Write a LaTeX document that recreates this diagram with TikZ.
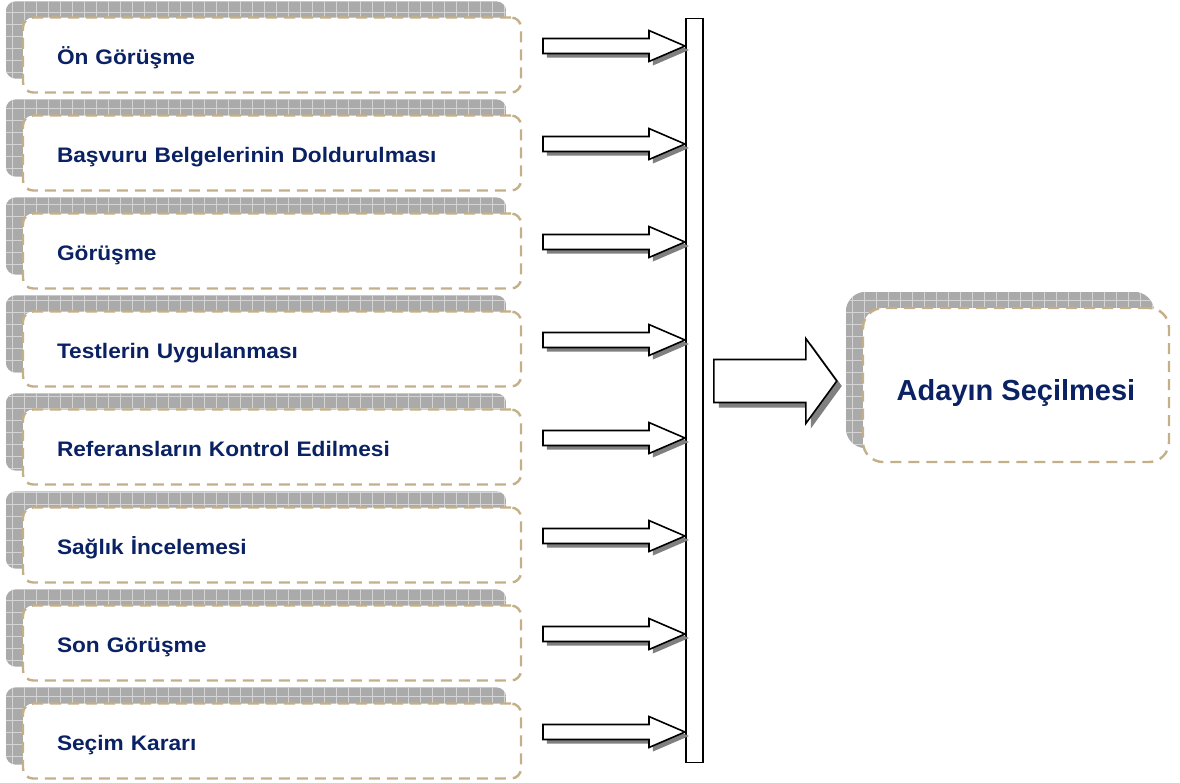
\documentclass[tikz,border=0pt]{standalone}
\usepackage{fontspec}
\setmainfont{Liberation Sans}
\newfontfamily\widesans[FakeStretch=1.08]{Liberation Sans}
\usetikzlibrary{calc,backgrounds}

\definecolor{navy}{RGB}{10,34,100}
\definecolor{sand}{RGB}{196,176,136}
\definecolor{shadegray}{RGB}{170,170,170}
\definecolor{gridgray}{RGB}{212,212,212}
\definecolor{arrowshade}{RGB}{128,128,128}

% block arrow pointing right, given by its tip, total length, head length,
% half shaft width and half head width
\newcommand\blockarrowpath[5]{%
  ($(#1)+(-#2,-#4)$) -- ($(#1)+(-#3,-#4)$) -- ($(#1)+(-#3,-#5)$) -- (#1)
  -- ($(#1)+(-#3,#5)$) -- ($(#1)+(-#3,#4)$) -- ($(#1)+(-#2,#4)$) -- cycle}

\begin{document}
\begin{tikzpicture}[x=1pt,y=-1pt,
  stepbox/.style={draw=sand, line width=2.4pt, dash pattern=on 11pt off 7pt,
    rounded corners=10pt, fill=white, minimum width=498pt, minimum height=75pt,
    text width=430pt, inner xsep=34pt, inner ysep=0pt, align=left,
    text height=18pt, text depth=0pt,
    font=\widesans\bfseries\fontsize{21}{24}\selectfont, text=navy},
  goalbox/.style={draw=sand, line width=2.4pt, dash pattern=on 11pt off 7pt,
    rounded corners=20pt, fill=white, minimum width=306pt, minimum height=154pt,
    inner sep=0pt, text height=31pt, text depth=0pt,
    font=\bfseries\fontsize{29}{32}\selectfont, text=navy},
  blockarrow/.style={draw=black, line width=1.6pt, fill=white, line join=miter},
  arrowshadow/.style={fill=arrowshade},
  gridshade/.style={fill=shadegray},
  gridlines/.style={draw=gridgray, line width=0.9pt}]

\useasboundingbox (0,0) rectangle (1180,782);

% steps of the selection process
\foreach \i/\txt in {1/Ön Görüşme,
                     2/Başvuru Belgelerinin Doldurulması,
                     3/Görüşme,
                     4/Testlerin Uygulanması,
                     5/Referansların Kontrol Edilmesi,
                     6/Sağlık İncelemesi,
                     7/Son Görüşme,
                     8/Seçim Kararı}{
  \node[stepbox] (b\i) at (272,{55+98*(\i-1)}) {\txt};
}

% result box
\node[goalbox] (goal) at (1016,385) {Adayın Seçilmesi};

% gridded shadows behind the boxes
\begin{scope}[on background layer]
  \foreach \i in {1,...,8}{
    \begin{scope}
      \clip[rounded corners=10pt] ($(b\i.south west)+(-16,-15)$) rectangle ($(b\i.north east)+(-16,-15)$);
      \fill[gridshade] ($(b\i.south west)+(-16,-15)$) rectangle ($(b\i.north east)+(-16,-15)$);
      \draw[gridlines] ($(b\i.south west)+(-16,-15)$) grid[step=12pt] ($(b\i.north east)+(-16,-15)$);
    \end{scope}
  }
  \begin{scope}
    \clip[rounded corners=20pt] ($(goal.south west)+(-16,-15)$) rectangle ($(goal.north east)+(-16,-15)$);
    \fill[gridshade] ($(goal.south west)+(-16,-15)$) rectangle ($(goal.north east)+(-16,-15)$);
    \draw[gridlines] ($(goal.south west)+(-16,-15)$) grid[step=12pt] ($(goal.north east)+(-16,-15)$);
  \end{scope}
\end{scope}

% collecting bar
\node[draw=black, line width=1.6pt, fill=white, minimum width=17.5pt,
      minimum height=744pt, inner sep=0pt] (bar) at (694.5,390.5) {};

% small arrows from each step into the bar
\foreach \i in {1,...,8}{
  \coordinate (r\i) at (0,{46+98*(\i-1)});
  \coordinate (t\i) at (bar.west |- r\i);
  \begin{scope}[transform canvas={xshift=4pt,yshift=-4pt}]
    \fill[arrowshadow] \blockarrowpath{t\i}{142}{36}{7.5}{15.5};
  \end{scope}
  \draw[blockarrow] \blockarrowpath{t\i}{142}{36}{7.5}{15.5};
}

% large arrow from the bar to the result
\coordinate (bigtip) at ($(goal.west)+(-25,-4)$);
\begin{scope}[transform canvas={xshift=5pt,yshift=-5pt}]
  \fill[arrowshadow] \blockarrowpath{bigtip}{123}{31}{21.5}{42.5};
\end{scope}
\draw[blockarrow] \blockarrowpath{bigtip}{123}{31}{21.5}{42.5};

\end{tikzpicture}
\end{document}
